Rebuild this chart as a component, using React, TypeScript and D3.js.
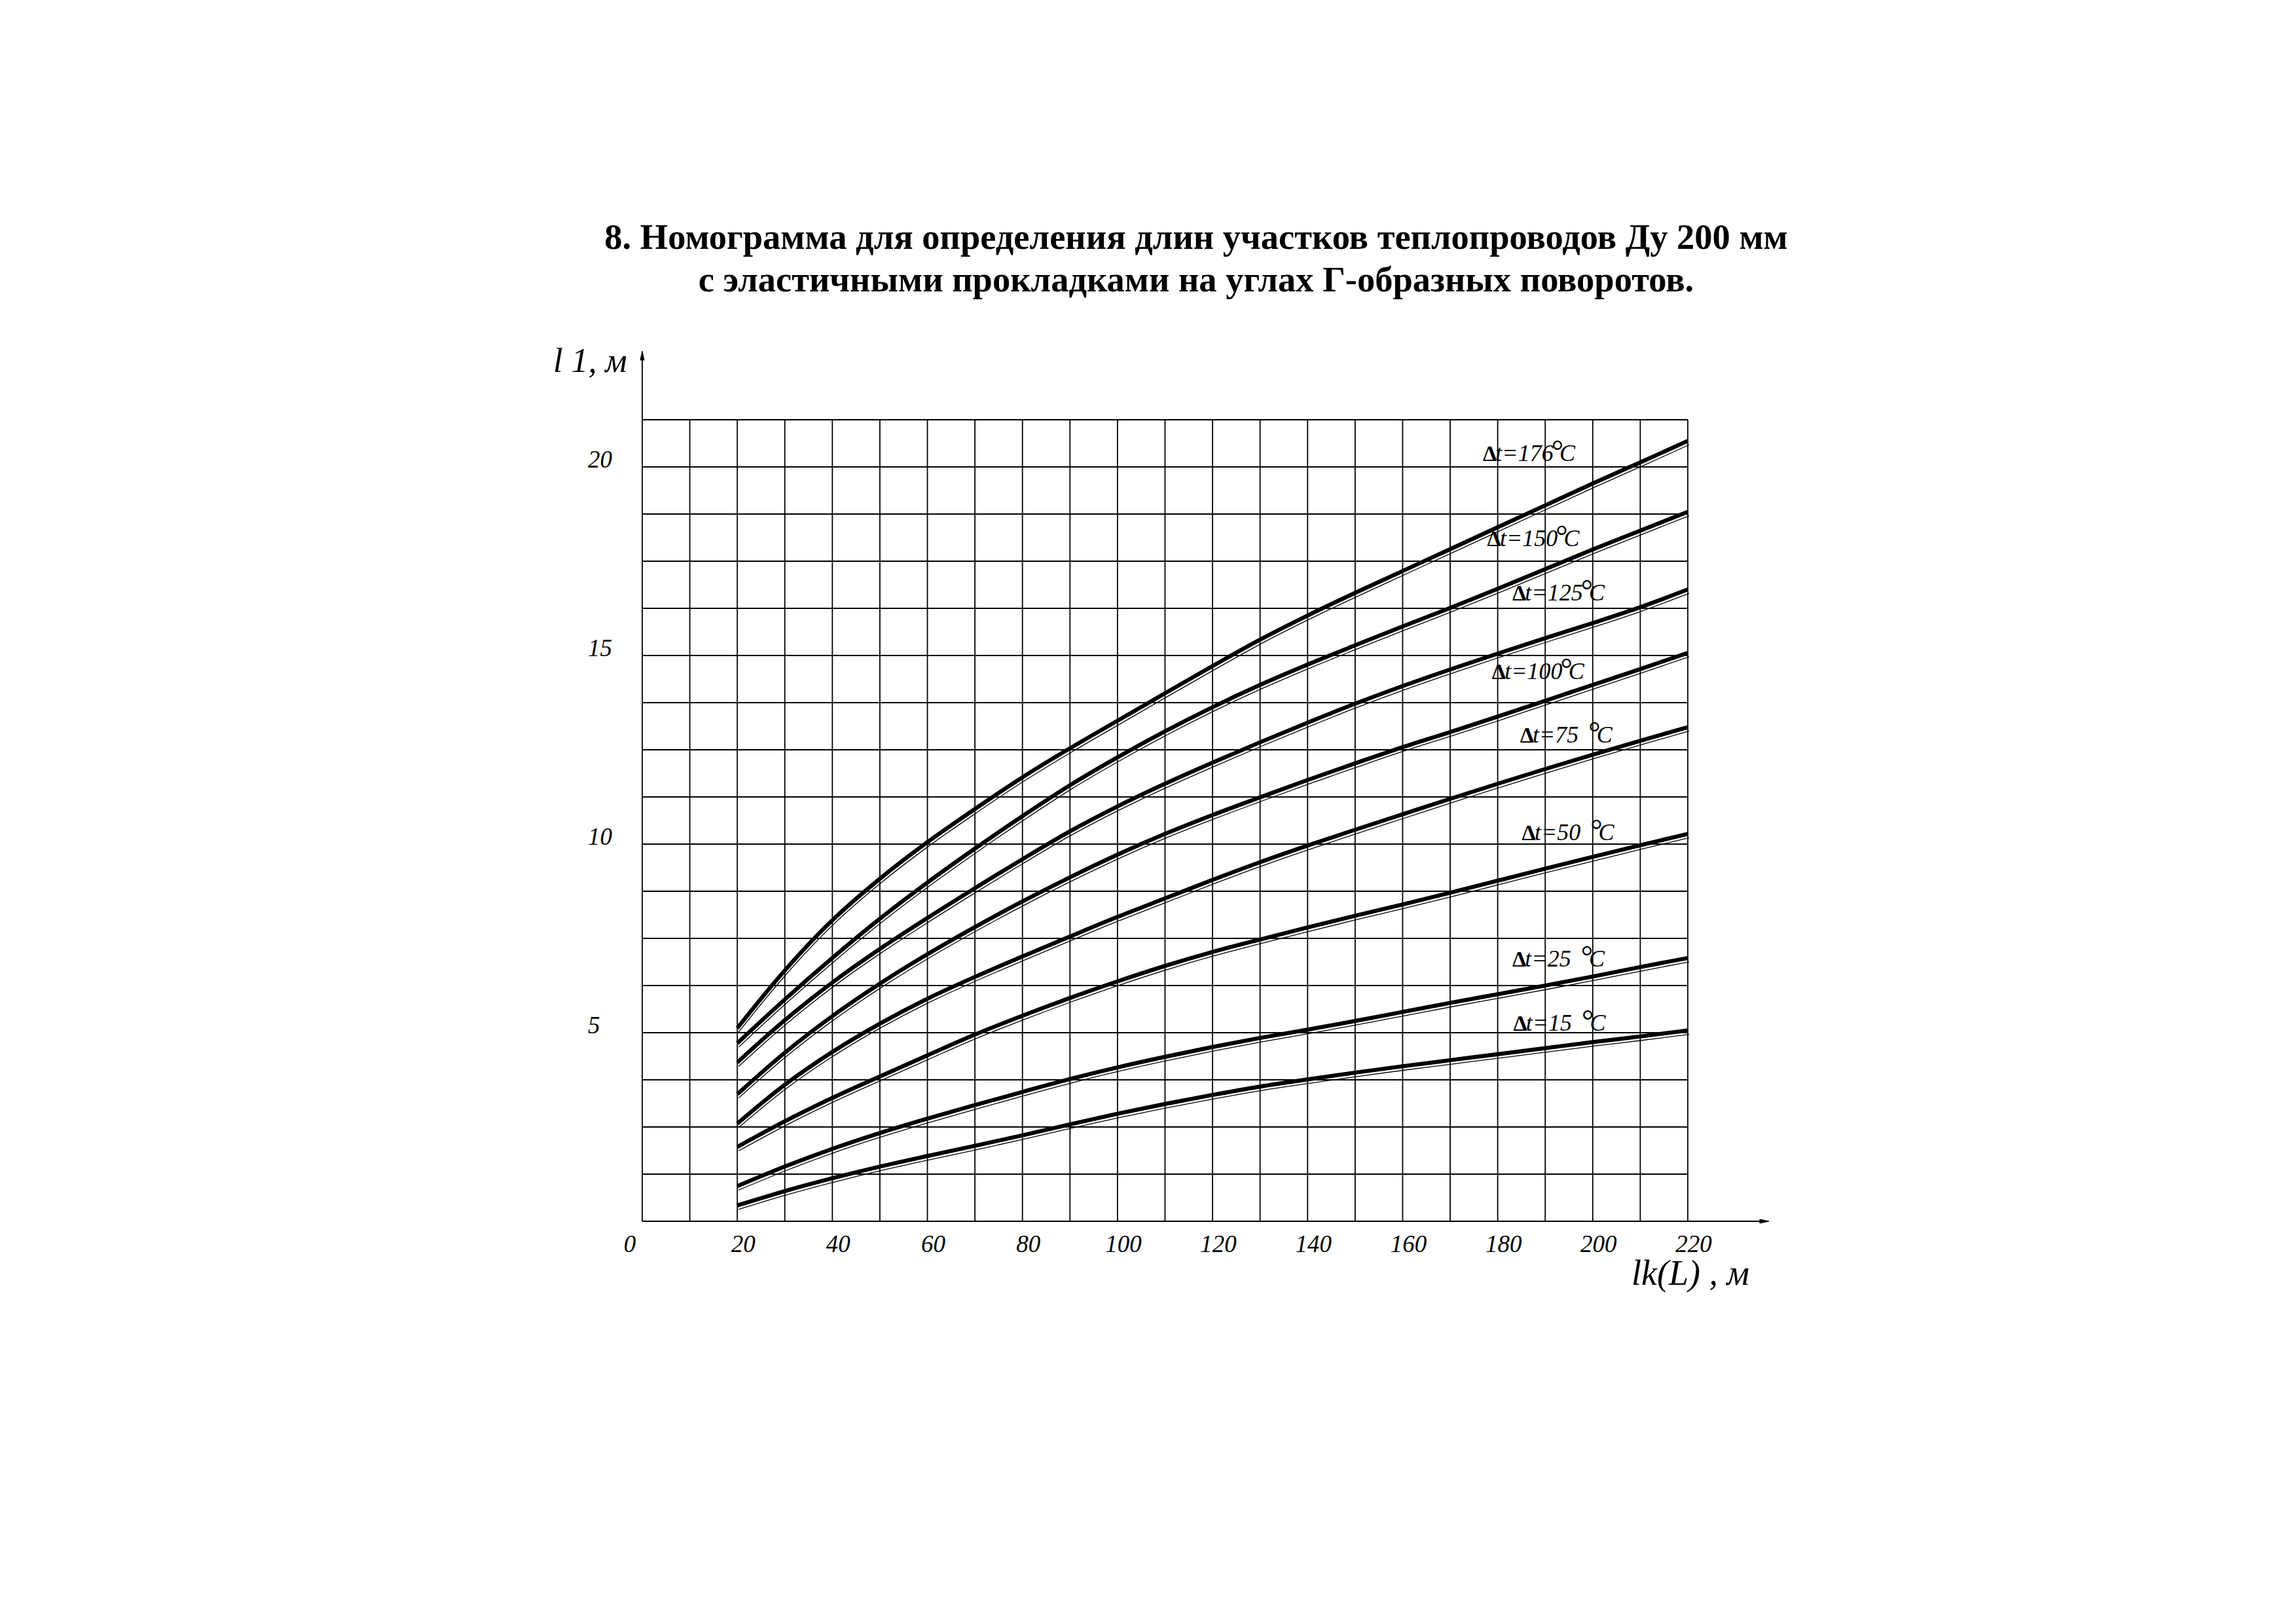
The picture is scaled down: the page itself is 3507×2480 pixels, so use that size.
import React from 'react';
import * as d3 from 'd3';

// Pipe length lk(L), m — points where each curve was read
const lengths = [20, 30, 40, 50, 60, 70, 80, 90, 100, 110, 120, 130, 140, 150, 160, 170, 180, 190, 200, 210, 220];

// l1, m for each temperature difference Δt
const dt176 = [5.12, 6.65, 7.98, 9.08, 10.05, 10.93, 11.77, 12.54, 13.27, 14.0, 14.72, 15.42, 16.06, 16.66, 17.24, 17.82, 18.4, 18.98, 19.56, 20.12, 20.69];
const dt150 = [4.72, 5.88, 6.98, 8.02, 8.98, 9.88, 10.74, 11.56, 12.3, 12.99, 13.63, 14.22, 14.76, 15.27, 15.77, 16.26, 16.77, 17.29, 17.81, 18.31, 18.81];
const dt125 = [4.21, 5.33, 6.33, 7.22, 8.04, 8.83, 9.6, 10.34, 11.0, 11.6, 12.16, 12.7, 13.22, 13.72, 14.19, 14.63, 15.05, 15.46, 15.86, 16.28, 16.75];
const dt100 = [3.37, 4.47, 5.44, 6.3, 7.08, 7.8, 8.48, 9.12, 9.72, 10.27, 10.77, 11.24, 11.7, 12.14, 12.57, 12.97, 13.38, 13.8, 14.22, 14.64, 15.07];
const dt75 = [2.59, 3.62, 4.49, 5.24, 5.9, 6.48, 7.02, 7.55, 8.07, 8.56, 9.05, 9.52, 9.96, 10.38, 10.79, 11.2, 11.6, 11.99, 12.37, 12.74, 13.1];
const dt50 = [1.97, 2.65, 3.27, 3.84, 4.4, 4.95, 5.45, 5.92, 6.36, 6.77, 7.14, 7.47, 7.79, 8.1, 8.4, 8.71, 9.03, 9.35, 9.66, 9.97, 10.27];
const dt25 = [0.93, 1.45, 1.92, 2.34, 2.72, 3.08, 3.43, 3.77, 4.08, 4.36, 4.62, 4.86, 5.08, 5.31, 5.55, 5.79, 6.02, 6.25, 6.49, 6.74, 6.98];
const dt15 = [0.42, 0.8, 1.14, 1.45, 1.73, 2.0, 2.28, 2.57, 2.85, 3.11, 3.35, 3.57, 3.76, 3.94, 4.11, 4.27, 4.43, 4.59, 4.75, 4.9, 5.06];

const curveValues = [dt176, dt150, dt125, dt100, dt75, dt50, dt25, dt15];
const curveNames = ['t=176', 't=150', 't=125', 't=100', 't=75 ', 't=50 ', 't=25 ', 't=15 '];
// Label anchors in chart units: [lk, l1]
const labelLk = [177.3, 178.2, 183.5, 179.2, 185.1, 185.5, 183.5, 183.7];
const labelL1 = [20.19, 17.93, 16.49, 14.41, 12.73, 10.14, 6.79, 5.09];

const xTicks = [0, 20, 40, 60, 80, 100, 120, 140, 160, 180, 200, 220];
const yTicks = [5, 10, 15, 20];

const titleLines = [
  '8. Номограмма для определения длин участков теплопроводов Ду 200 мм',
  'с эластичными прокладками на углах Г-образных поворотов.',
];

const W = 3507;
const H = 2480;
const serif = '"Liberation Serif", "Times New Roman", serif';

export default function App() {
  const x = d3.scaleLinear().domain([0, 220]).range([981, 2578]);
  const y = d3.scaleLinear().domain([0, 21.25]).range([1865, 641]);

  const line = d3
    .line<number>()
    .x((_, i) => x(lengths[i]))
    .y((d) => y(d))
    .curve(d3.curveCatmullRom.alpha(0.5));

  const xGrid = d3.range(0, 221, 10);
  const yGrid = d3.range(0, 21.251, 1.25);

  const yAxisTop = y(22.9);
  const xAxisEnd = x(235.7);

  return (
    <svg
      width={W}
      height={H}
      viewBox={`0 0 ${W} ${H}`}
      style={{ position: 'absolute', left: 0, top: 0, background: '#fff' }}
    >
      <rect x={0} y={0} width={W} height={H} fill="#fff" />

      {/* title */}
      <g fontFamily={serif} fontWeight="bold" fontSize={54.5} textAnchor="middle" fill="#000">
        <text x={1827} y={380}>{titleLines[0]}</text>
        <text x={1827} y={445}>{titleLines[1]}</text>
      </g>

      {/* grid */}
      <g stroke="#000" strokeWidth={1.8}>
        {xGrid.map((v) => (
          <line key={'vx' + v} x1={x(v)} x2={x(v)} y1={y(0)} y2={y(21.25)} />
        ))}
        {yGrid.map((v) => (
          <line key={'hy' + v} x1={x(0)} x2={x(220)} y1={y(v)} y2={y(v)} />
        ))}
      </g>

      {/* axes with arrows */}
      <g stroke="#000" strokeWidth={1.8} fill="#000">
        <line x1={x(0)} x2={x(0)} y1={y(21.25)} y2={yAxisTop} />
        <path d={`M${x(0)},${yAxisTop - 10} L${x(0) - 3},${yAxisTop + 4} L${x(0) + 3},${yAxisTop + 4} Z`} strokeWidth={1} />
        <line x1={x(220)} x2={xAxisEnd} y1={y(0)} y2={y(0)} />
        <path d={`M${xAxisEnd + 10},${y(0)} L${xAxisEnd - 4},${y(0) - 3} L${xAxisEnd - 4},${y(0) + 3} Z`} strokeWidth={1} />
      </g>

      {/* curves: heavy stroke with a thin companion line */}
      <g fill="none" stroke="#000" strokeLinecap="butt" strokeLinejoin="round">
        {curveValues.map((vals, i) => (
          <g key={'c' + i}>
            <path d={line(vals) || ''} strokeWidth={1.3} transform="translate(2,6)" />
            <path d={line(vals) || ''} strokeWidth={6.2} />
          </g>
        ))}
      </g>

      {/* tick labels */}
      <g fontFamily={serif} fontStyle="italic" fontSize={37} fill="#000">
        {xTicks.map((v) => (
          <text key={'xt' + v} x={v === 0 ? x(v) - 19 : x(v) + 9} y={1912} textAnchor="middle">
            {v}
          </text>
        ))}
        {yTicks.map((v) => (
          <text key={'yt' + v} x={898} y={y(v) + 1} textAnchor="start">
            {v}
          </text>
        ))}
      </g>

      {/* axis titles */}
      <g fontFamily={serif} fontStyle="italic" fill="#000">
        <text x={845} y={568} fontSize={52}>l 1, м</text>
        <text x={2492} y={1962} fontSize={54} style={{ whiteSpace: 'pre' }}>lk(L) , м</text>
      </g>

      {/* curve labels */}
      <g fontFamily={serif} fill="#000">
        {curveNames.map((name, i) => (
          <text key={'lbl' + i} x={x(labelLk[i]) - 3} y={y(labelL1[i]) + 2} fontSize={36} style={{ whiteSpace: 'pre' }}>
            <tspan fontWeight="bold" fontSize={34}>Δ</tspan>
            <tspan fontStyle="italic" dx={-2}>{name}</tspan>
            <tspan fontSize={46} dx={name.endsWith(' ') ? 6 : -3}>°</tspan>
            <tspan fontStyle="italic" dx={-6}>C</tspan>
          </text>
        ))}
      </g>
    </svg>
  );
}
